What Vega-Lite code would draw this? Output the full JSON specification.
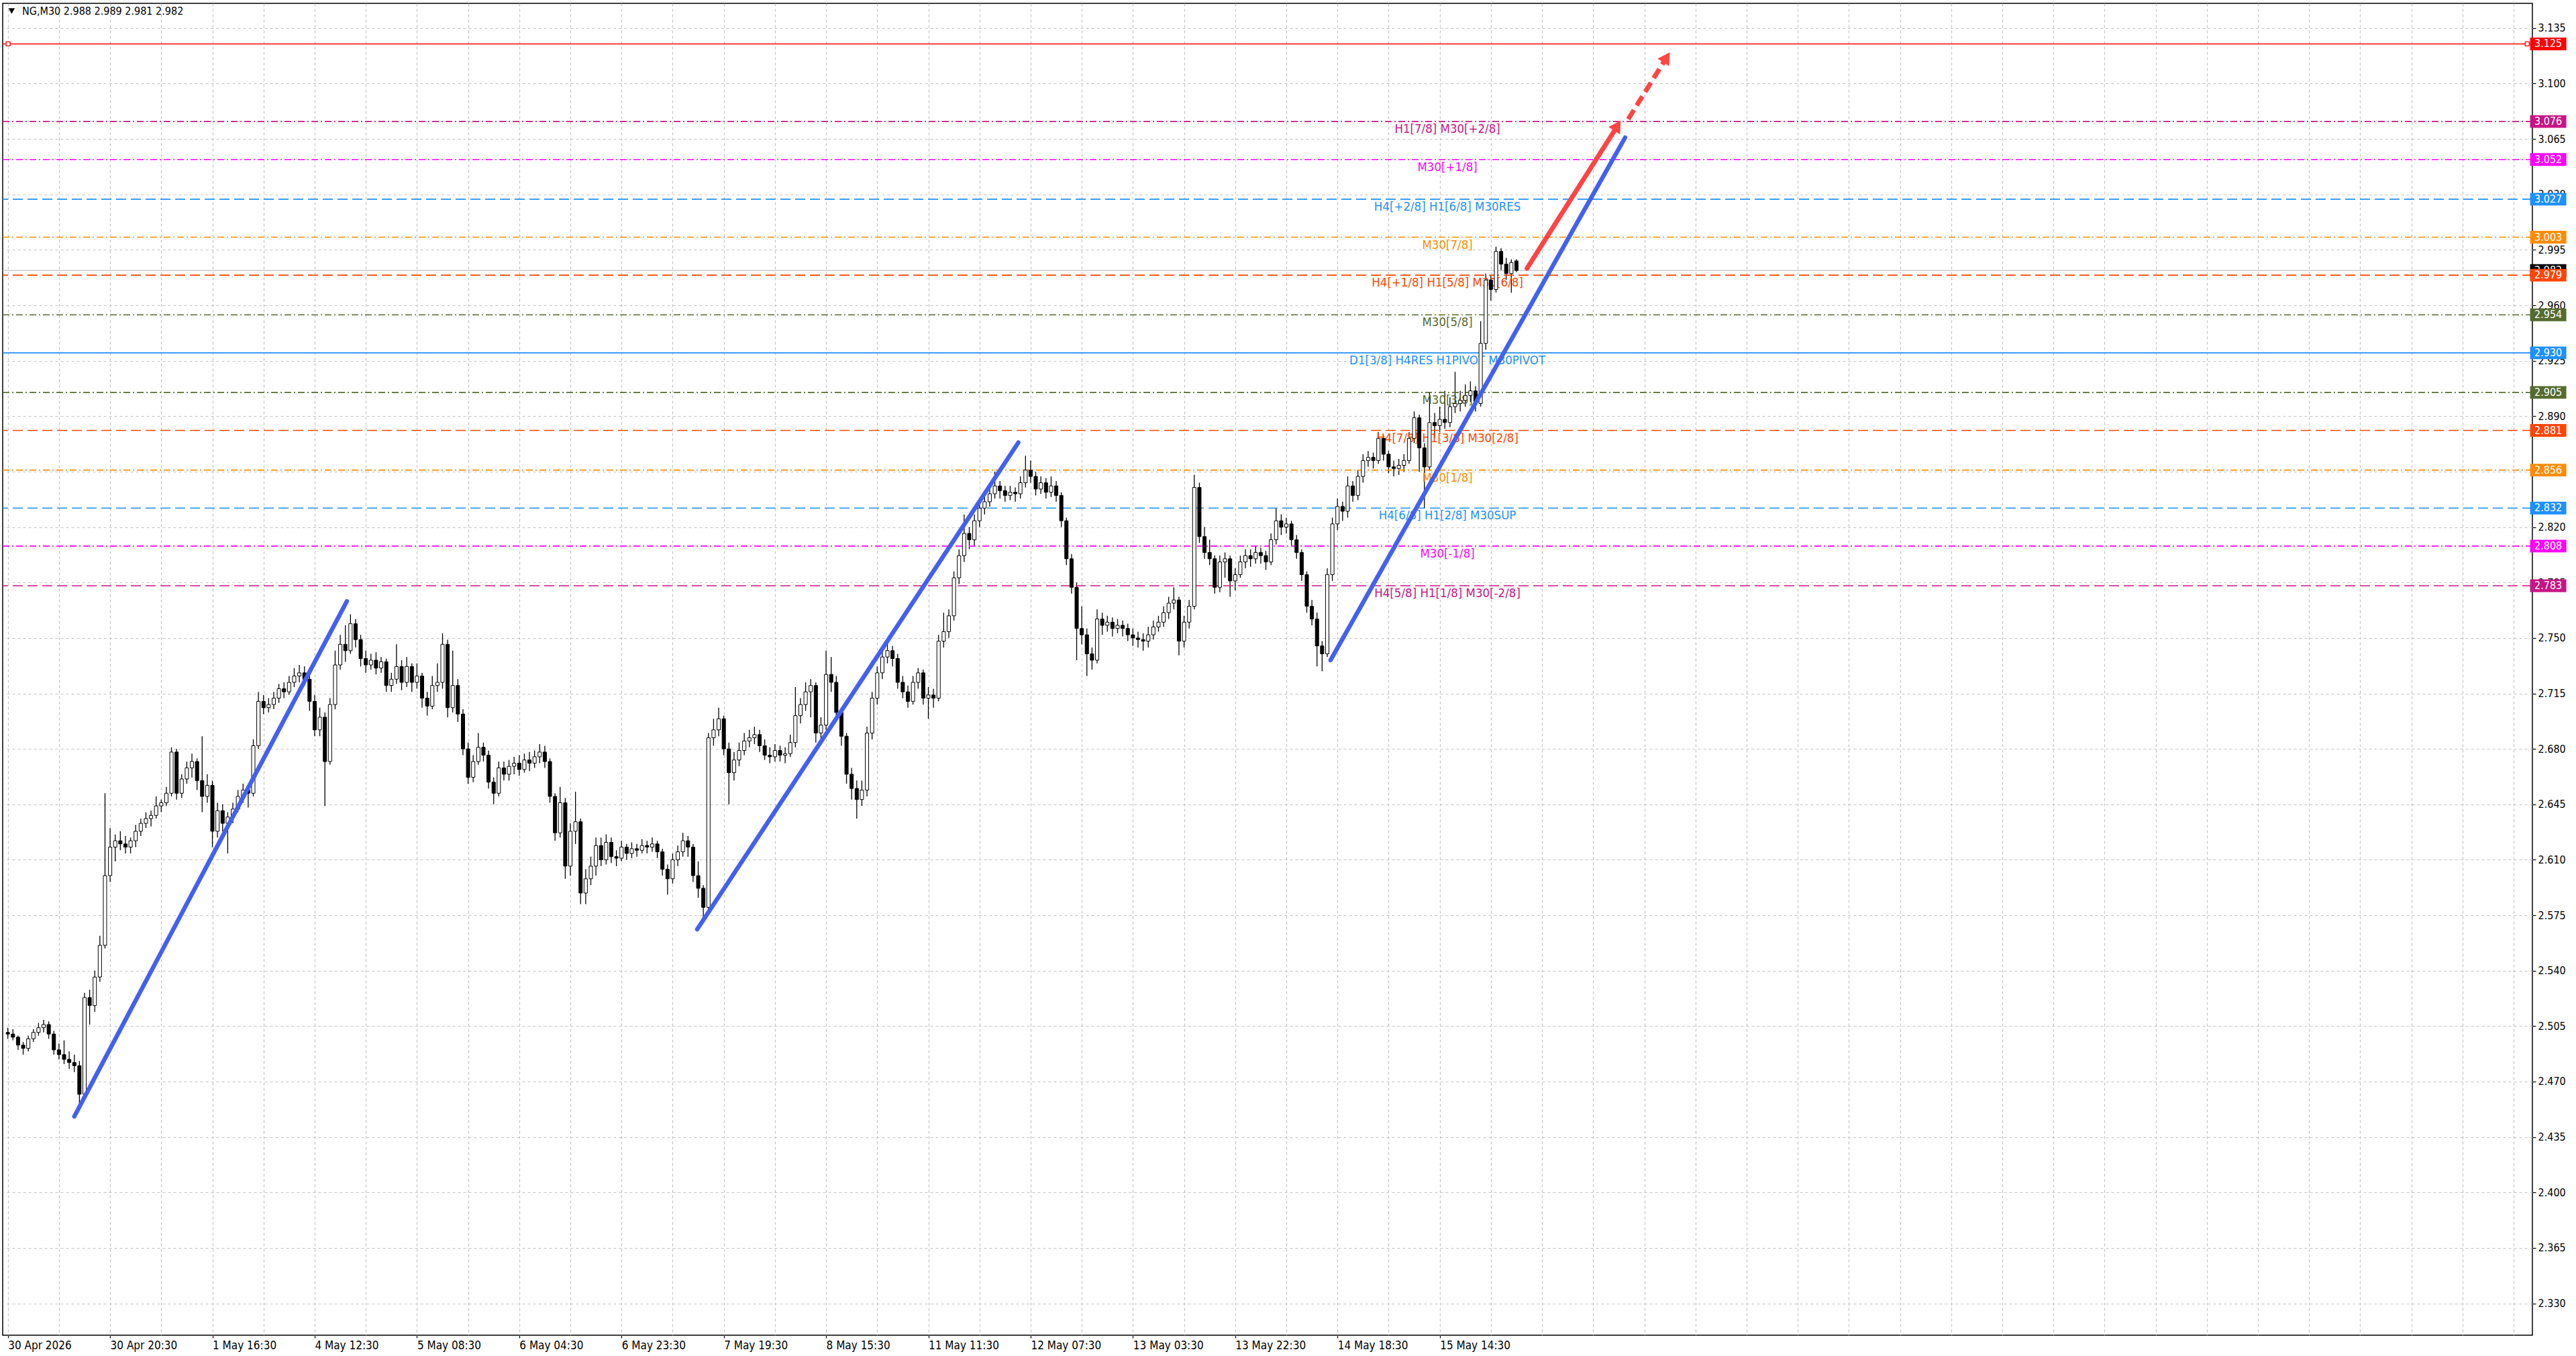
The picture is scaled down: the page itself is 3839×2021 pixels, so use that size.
{
  "$schema": "https://vega.github.io/schema/vega-lite/v6.json",
  "description": "NG M30 candles with Murrey-style levels, trend lines and projection arrow",
  "width": 3770,
  "height": 1985,
  "autosize": "none",
  "padding": {"left": 4, "top": 5, "right": 65, "bottom": 31},
  "background": "#ffffff",
  "config": {
    "view": {"stroke": "#000000", "strokeWidth": 1.5},
    "font": "DejaVu Sans Condensed",
    "text": {"font": "DejaVu Sans Condensed"}
  },
  "datasets": {
    "bars": [
      {"t":0,"o":2.501,"h":2.504,"l":2.497,"c":2.5},
      {"t":2,"o":2.5,"h":2.503,"l":2.496,"c":2.498},
      {"t":4,"o":2.498,"h":2.499,"l":2.49,"c":2.493},
      {"t":6,"o":2.493,"h":2.495,"l":2.487,"c":2.491},
      {"t":8,"o":2.491,"h":2.499,"l":2.489,"c":2.497},
      {"t":10,"o":2.497,"h":2.503,"l":2.495,"c":2.501},
      {"t":12,"o":2.501,"h":2.507,"l":2.499,"c":2.504},
      {"t":14,"o":2.504,"h":2.509,"l":2.501,"c":2.506},
      {"t":16,"o":2.506,"h":2.508,"l":2.497,"c":2.5},
      {"t":18,"o":2.5,"h":2.502,"l":2.487,"c":2.49},
      {"t":20,"o":2.49,"h":2.494,"l":2.484,"c":2.487},
      {"t":22,"o":2.487,"h":2.496,"l":2.481,"c":2.484},
      {"t":24,"o":2.484,"h":2.489,"l":2.478,"c":2.482},
      {"t":26,"o":2.482,"h":2.487,"l":2.476,"c":2.48},
      {"t":28,"o":2.48,"h":2.483,"l":2.456,"c":2.462},
      {"t":30,"o":2.462,"h":2.526,"l":2.46,"c":2.523},
      {"t":32,"o":2.523,"h":2.528,"l":2.506,"c":2.518},
      {"t":34,"o":2.518,"h":2.54,"l":2.514,"c":2.536},
      {"t":36,"o":2.536,"h":2.562,"l":2.533,"c":2.556},
      {"t":38,"o":2.556,"h":2.652,"l":2.554,"c":2.6},
      {"t":40,"o":2.6,"h":2.63,"l":2.596,"c":2.618},
      {"t":42,"o":2.618,"h":2.626,"l":2.609,"c":2.622},
      {"t":44,"o":2.622,"h":2.628,"l":2.616,"c":2.62},
      {"t":46,"o":2.62,"h":2.625,"l":2.614,"c":2.618},
      {"t":48,"o":2.618,"h":2.624,"l":2.614,"c":2.622},
      {"t":50,"o":2.622,"h":2.632,"l":2.618,"c":2.628},
      {"t":52,"o":2.628,"h":2.636,"l":2.625,"c":2.633},
      {"t":54,"o":2.633,"h":2.64,"l":2.63,"c":2.636},
      {"t":56,"o":2.636,"h":2.641,"l":2.631,"c":2.638},
      {"t":58,"o":2.638,"h":2.65,"l":2.636,"c":2.644},
      {"t":60,"o":2.644,"h":2.648,"l":2.64,"c":2.646},
      {"t":62,"o":2.646,"h":2.656,"l":2.644,"c":2.652},
      {"t":64,"o":2.652,"h":2.681,"l":2.65,"c":2.678},
      {"t":66,"o":2.678,"h":2.68,"l":2.648,"c":2.652},
      {"t":68,"o":2.652,"h":2.664,"l":2.649,"c":2.661},
      {"t":70,"o":2.661,"h":2.672,"l":2.658,"c":2.668},
      {"t":72,"o":2.668,"h":2.677,"l":2.662,"c":2.672},
      {"t":74,"o":2.672,"h":2.674,"l":2.654,"c":2.66},
      {"t":76,"o":2.66,"h":2.688,"l":2.64,"c":2.65},
      {"t":78,"o":2.65,"h":2.664,"l":2.646,"c":2.657},
      {"t":80,"o":2.657,"h":2.66,"l":2.618,"c":2.628},
      {"t":82,"o":2.628,"h":2.646,"l":2.624,"c":2.641},
      {"t":84,"o":2.641,"h":2.645,"l":2.628,"c":2.633},
      {"t":86,"o":2.633,"h":2.64,"l":2.614,"c":2.637},
      {"t":88,"o":2.637,"h":2.646,"l":2.633,"c":2.642},
      {"t":90,"o":2.642,"h":2.654,"l":2.64,"c":2.65},
      {"t":92,"o":2.65,"h":2.658,"l":2.646,"c":2.654},
      {"t":94,"o":2.654,"h":2.657,"l":2.643,"c":2.652},
      {"t":96,"o":2.652,"h":2.686,"l":2.65,"c":2.682},
      {"t":98,"o":2.682,"h":2.716,"l":2.68,"c":2.71},
      {"t":100,"o":2.71,"h":2.714,"l":2.702,"c":2.706},
      {"t":102,"o":2.706,"h":2.712,"l":2.703,"c":2.708},
      {"t":104,"o":2.708,"h":2.716,"l":2.705,"c":2.712},
      {"t":106,"o":2.712,"h":2.721,"l":2.709,"c":2.718},
      {"t":108,"o":2.718,"h":2.722,"l":2.712,"c":2.716},
      {"t":110,"o":2.716,"h":2.726,"l":2.714,"c":2.722},
      {"t":112,"o":2.722,"h":2.731,"l":2.719,"c":2.726},
      {"t":114,"o":2.726,"h":2.733,"l":2.722,"c":2.728},
      {"t":116,"o":2.728,"h":2.732,"l":2.72,"c":2.724},
      {"t":118,"o":2.724,"h":2.727,"l":2.704,"c":2.71},
      {"t":120,"o":2.71,"h":2.714,"l":2.688,"c":2.692},
      {"t":122,"o":2.692,"h":2.706,"l":2.688,"c":2.7},
      {"t":124,"o":2.7,"h":2.703,"l":2.644,"c":2.672},
      {"t":126,"o":2.672,"h":2.712,"l":2.67,"c":2.708},
      {"t":128,"o":2.708,"h":2.742,"l":2.705,"c":2.733},
      {"t":130,"o":2.733,"h":2.752,"l":2.73,"c":2.746},
      {"t":132,"o":2.746,"h":2.758,"l":2.735,"c":2.742},
      {"t":134,"o":2.742,"h":2.765,"l":2.74,"c":2.759},
      {"t":136,"o":2.759,"h":2.762,"l":2.744,"c":2.749},
      {"t":138,"o":2.749,"h":2.752,"l":2.732,"c":2.737},
      {"t":140,"o":2.737,"h":2.742,"l":2.728,"c":2.733},
      {"t":142,"o":2.733,"h":2.74,"l":2.73,"c":2.736},
      {"t":144,"o":2.736,"h":2.741,"l":2.727,"c":2.731},
      {"t":146,"o":2.731,"h":2.738,"l":2.728,"c":2.735},
      {"t":148,"o":2.735,"h":2.737,"l":2.716,"c":2.72},
      {"t":150,"o":2.72,"h":2.728,"l":2.716,"c":2.724},
      {"t":152,"o":2.724,"h":2.746,"l":2.721,"c":2.732},
      {"t":154,"o":2.732,"h":2.736,"l":2.717,"c":2.722},
      {"t":156,"o":2.722,"h":2.738,"l":2.719,"c":2.732},
      {"t":158,"o":2.732,"h":2.734,"l":2.716,"c":2.722},
      {"t":160,"o":2.722,"h":2.734,"l":2.718,"c":2.726},
      {"t":162,"o":2.726,"h":2.728,"l":2.706,"c":2.712},
      {"t":164,"o":2.712,"h":2.716,"l":2.701,"c":2.707},
      {"t":166,"o":2.707,"h":2.726,"l":2.705,"c":2.72},
      {"t":168,"o":2.72,"h":2.734,"l":2.716,"c":2.722},
      {"t":170,"o":2.722,"h":2.753,"l":2.718,"c":2.746},
      {"t":172,"o":2.746,"h":2.749,"l":2.7,"c":2.706},
      {"t":174,"o":2.706,"h":2.742,"l":2.703,"c":2.72},
      {"t":176,"o":2.72,"h":2.724,"l":2.697,"c":2.702},
      {"t":178,"o":2.702,"h":2.705,"l":2.676,"c":2.68},
      {"t":180,"o":2.68,"h":2.684,"l":2.658,"c":2.662},
      {"t":182,"o":2.662,"h":2.676,"l":2.659,"c":2.672},
      {"t":184,"o":2.672,"h":2.69,"l":2.67,"c":2.681},
      {"t":186,"o":2.681,"h":2.684,"l":2.672,"c":2.676},
      {"t":188,"o":2.676,"h":2.679,"l":2.655,"c":2.659},
      {"t":190,"o":2.659,"h":2.662,"l":2.645,"c":2.652},
      {"t":192,"o":2.652,"h":2.672,"l":2.65,"c":2.668},
      {"t":194,"o":2.668,"h":2.672,"l":2.66,"c":2.664},
      {"t":196,"o":2.664,"h":2.673,"l":2.66,"c":2.669},
      {"t":198,"o":2.669,"h":2.675,"l":2.664,"c":2.671},
      {"t":200,"o":2.671,"h":2.676,"l":2.663,"c":2.667},
      {"t":202,"o":2.667,"h":2.677,"l":2.665,"c":2.673},
      {"t":204,"o":2.673,"h":2.678,"l":2.666,"c":2.671},
      {"t":206,"o":2.671,"h":2.679,"l":2.668,"c":2.675},
      {"t":208,"o":2.675,"h":2.683,"l":2.671,"c":2.678},
      {"t":210,"o":2.678,"h":2.682,"l":2.668,"c":2.672},
      {"t":212,"o":2.672,"h":2.674,"l":2.646,"c":2.65},
      {"t":214,"o":2.65,"h":2.652,"l":2.622,"c":2.627},
      {"t":216,"o":2.627,"h":2.656,"l":2.624,"c":2.646},
      {"t":218,"o":2.646,"h":2.649,"l":2.598,"c":2.606},
      {"t":220,"o":2.606,"h":2.633,"l":2.6,"c":2.628},
      {"t":222,"o":2.628,"h":2.653,"l":2.62,"c":2.634},
      {"t":224,"o":2.634,"h":2.636,"l":2.582,"c":2.589},
      {"t":226,"o":2.589,"h":2.604,"l":2.582,"c":2.598},
      {"t":228,"o":2.598,"h":2.612,"l":2.594,"c":2.606},
      {"t":230,"o":2.606,"h":2.624,"l":2.6,"c":2.619},
      {"t":232,"o":2.619,"h":2.624,"l":2.606,"c":2.61},
      {"t":234,"o":2.61,"h":2.626,"l":2.607,"c":2.621},
      {"t":236,"o":2.621,"h":2.624,"l":2.608,"c":2.612},
      {"t":238,"o":2.612,"h":2.616,"l":2.606,"c":2.611},
      {"t":240,"o":2.611,"h":2.622,"l":2.609,"c":2.618},
      {"t":242,"o":2.618,"h":2.62,"l":2.61,"c":2.614},
      {"t":244,"o":2.614,"h":2.621,"l":2.611,"c":2.617},
      {"t":246,"o":2.617,"h":2.62,"l":2.612,"c":2.616},
      {"t":248,"o":2.616,"h":2.623,"l":2.614,"c":2.619},
      {"t":250,"o":2.619,"h":2.622,"l":2.614,"c":2.618},
      {"t":252,"o":2.618,"h":2.624,"l":2.615,"c":2.62},
      {"t":254,"o":2.62,"h":2.622,"l":2.611,"c":2.615},
      {"t":256,"o":2.615,"h":2.617,"l":2.6,"c":2.604},
      {"t":258,"o":2.604,"h":2.607,"l":2.588,"c":2.598},
      {"t":260,"o":2.598,"h":2.614,"l":2.595,"c":2.61},
      {"t":262,"o":2.61,"h":2.619,"l":2.606,"c":2.615},
      {"t":264,"o":2.615,"h":2.627,"l":2.612,"c":2.622},
      {"t":266,"o":2.622,"h":2.625,"l":2.612,"c":2.618},
      {"t":268,"o":2.618,"h":2.62,"l":2.596,"c":2.6},
      {"t":270,"o":2.6,"h":2.609,"l":2.586,"c":2.592},
      {"t":272,"o":2.592,"h":2.594,"l":2.572,"c":2.58},
      {"t":274,"o":2.58,"h":2.69,"l":2.578,"c":2.687},
      {"t":276,"o":2.687,"h":2.699,"l":2.682,"c":2.692},
      {"t":278,"o":2.692,"h":2.706,"l":2.688,"c":2.699},
      {"t":280,"o":2.699,"h":2.701,"l":2.676,"c":2.68},
      {"t":282,"o":2.68,"h":2.684,"l":2.645,"c":2.665},
      {"t":284,"o":2.665,"h":2.678,"l":2.66,"c":2.673},
      {"t":286,"o":2.673,"h":2.684,"l":2.669,"c":2.679},
      {"t":288,"o":2.679,"h":2.69,"l":2.676,"c":2.685},
      {"t":290,"o":2.685,"h":2.692,"l":2.681,"c":2.687},
      {"t":292,"o":2.687,"h":2.694,"l":2.683,"c":2.689},
      {"t":294,"o":2.689,"h":2.692,"l":2.678,"c":2.682},
      {"t":296,"o":2.682,"h":2.686,"l":2.673,"c":2.676},
      {"t":298,"o":2.676,"h":2.681,"l":2.671,"c":2.675},
      {"t":300,"o":2.675,"h":2.683,"l":2.672,"c":2.679},
      {"t":302,"o":2.679,"h":2.682,"l":2.672,"c":2.676},
      {"t":304,"o":2.676,"h":2.681,"l":2.671,"c":2.677},
      {"t":306,"o":2.677,"h":2.689,"l":2.675,"c":2.684},
      {"t":308,"o":2.684,"h":2.719,"l":2.681,"c":2.701},
      {"t":310,"o":2.701,"h":2.712,"l":2.696,"c":2.708},
      {"t":312,"o":2.708,"h":2.722,"l":2.704,"c":2.716},
      {"t":314,"o":2.716,"h":2.724,"l":2.7,"c":2.72},
      {"t":316,"o":2.72,"h":2.722,"l":2.684,"c":2.69},
      {"t":318,"o":2.69,"h":2.7,"l":2.686,"c":2.695},
      {"t":320,"o":2.695,"h":2.742,"l":2.692,"c":2.727},
      {"t":322,"o":2.727,"h":2.738,"l":2.716,"c":2.722},
      {"t":324,"o":2.722,"h":2.726,"l":2.698,"c":2.703},
      {"t":326,"o":2.703,"h":2.706,"l":2.682,"c":2.688},
      {"t":328,"o":2.688,"h":2.69,"l":2.658,"c":2.664},
      {"t":330,"o":2.664,"h":2.668,"l":2.648,"c":2.655},
      {"t":332,"o":2.655,"h":2.66,"l":2.636,"c":2.648},
      {"t":334,"o":2.648,"h":2.66,"l":2.644,"c":2.654},
      {"t":336,"o":2.654,"h":2.694,"l":2.65,"c":2.69},
      {"t":338,"o":2.69,"h":2.716,"l":2.686,"c":2.712},
      {"t":340,"o":2.712,"h":2.732,"l":2.708,"c":2.728},
      {"t":342,"o":2.728,"h":2.744,"l":2.724,"c":2.738},
      {"t":344,"o":2.738,"h":2.748,"l":2.734,"c":2.742},
      {"t":346,"o":2.742,"h":2.745,"l":2.732,"c":2.737},
      {"t":348,"o":2.737,"h":2.74,"l":2.718,"c":2.722},
      {"t":350,"o":2.722,"h":2.726,"l":2.712,"c":2.716},
      {"t":352,"o":2.716,"h":2.72,"l":2.706,"c":2.71},
      {"t":354,"o":2.71,"h":2.726,"l":2.708,"c":2.722},
      {"t":356,"o":2.722,"h":2.731,"l":2.718,"c":2.728},
      {"t":358,"o":2.728,"h":2.73,"l":2.708,"c":2.712},
      {"t":360,"o":2.712,"h":2.719,"l":2.699,"c":2.714},
      {"t":362,"o":2.714,"h":2.718,"l":2.706,"c":2.712},
      {"t":364,"o":2.712,"h":2.752,"l":2.71,"c":2.748},
      {"t":366,"o":2.748,"h":2.766,"l":2.744,"c":2.754},
      {"t":368,"o":2.754,"h":2.768,"l":2.75,"c":2.764},
      {"t":370,"o":2.764,"h":2.792,"l":2.761,"c":2.788},
      {"t":372,"o":2.788,"h":2.806,"l":2.784,"c":2.802},
      {"t":374,"o":2.802,"h":2.828,"l":2.798,"c":2.816},
      {"t":376,"o":2.816,"h":2.82,"l":2.806,"c":2.812},
      {"t":378,"o":2.812,"h":2.828,"l":2.808,"c":2.824},
      {"t":380,"o":2.824,"h":2.836,"l":2.82,"c":2.832},
      {"t":382,"o":2.832,"h":2.84,"l":2.828,"c":2.836},
      {"t":384,"o":2.836,"h":2.846,"l":2.833,"c":2.841},
      {"t":386,"o":2.841,"h":2.855,"l":2.838,"c":2.846},
      {"t":388,"o":2.846,"h":2.849,"l":2.838,"c":2.843},
      {"t":390,"o":2.843,"h":2.846,"l":2.836,"c":2.84},
      {"t":392,"o":2.84,"h":2.846,"l":2.837,"c":2.842},
      {"t":394,"o":2.842,"h":2.845,"l":2.836,"c":2.841},
      {"t":396,"o":2.841,"h":2.852,"l":2.838,"c":2.848},
      {"t":398,"o":2.848,"h":2.865,"l":2.845,"c":2.856},
      {"t":400,"o":2.856,"h":2.862,"l":2.848,"c":2.852},
      {"t":402,"o":2.852,"h":2.855,"l":2.84,"c":2.844},
      {"t":404,"o":2.844,"h":2.852,"l":2.841,"c":2.848},
      {"t":406,"o":2.848,"h":2.851,"l":2.838,"c":2.842},
      {"t":408,"o":2.842,"h":2.852,"l":2.839,"c":2.846},
      {"t":410,"o":2.846,"h":2.849,"l":2.836,"c":2.84},
      {"t":412,"o":2.84,"h":2.842,"l":2.82,"c":2.824},
      {"t":414,"o":2.824,"h":2.826,"l":2.796,"c":2.8},
      {"t":416,"o":2.8,"h":2.803,"l":2.778,"c":2.782},
      {"t":418,"o":2.782,"h":2.785,"l":2.736,"c":2.756},
      {"t":420,"o":2.756,"h":2.77,"l":2.746,"c":2.752},
      {"t":422,"o":2.752,"h":2.756,"l":2.726,"c":2.74},
      {"t":424,"o":2.74,"h":2.744,"l":2.73,"c":2.736},
      {"t":426,"o":2.736,"h":2.768,"l":2.734,"c":2.762},
      {"t":428,"o":2.762,"h":2.766,"l":2.752,"c":2.758},
      {"t":430,"o":2.758,"h":2.764,"l":2.754,"c":2.76},
      {"t":432,"o":2.76,"h":2.763,"l":2.751,"c":2.756},
      {"t":434,"o":2.756,"h":2.762,"l":2.753,"c":2.758},
      {"t":436,"o":2.758,"h":2.761,"l":2.751,"c":2.756},
      {"t":438,"o":2.756,"h":2.759,"l":2.748,"c":2.752},
      {"t":440,"o":2.752,"h":2.756,"l":2.745,"c":2.75},
      {"t":442,"o":2.75,"h":2.754,"l":2.744,"c":2.749},
      {"t":444,"o":2.749,"h":2.753,"l":2.742,"c":2.748},
      {"t":446,"o":2.748,"h":2.757,"l":2.744,"c":2.752},
      {"t":448,"o":2.752,"h":2.761,"l":2.749,"c":2.757},
      {"t":450,"o":2.757,"h":2.764,"l":2.754,"c":2.76},
      {"t":452,"o":2.76,"h":2.77,"l":2.757,"c":2.766},
      {"t":454,"o":2.766,"h":2.776,"l":2.762,"c":2.772},
      {"t":456,"o":2.772,"h":2.782,"l":2.768,"c":2.774},
      {"t":458,"o":2.774,"h":2.776,"l":2.739,"c":2.748},
      {"t":460,"o":2.748,"h":2.764,"l":2.744,"c":2.76},
      {"t":462,"o":2.76,"h":2.774,"l":2.756,"c":2.77},
      {"t":464,"o":2.77,"h":2.853,"l":2.768,"c":2.845},
      {"t":466,"o":2.845,"h":2.848,"l":2.81,"c":2.814},
      {"t":468,"o":2.814,"h":2.82,"l":2.8,"c":2.804},
      {"t":470,"o":2.804,"h":2.812,"l":2.796,"c":2.8},
      {"t":472,"o":2.8,"h":2.802,"l":2.778,"c":2.782},
      {"t":474,"o":2.782,"h":2.802,"l":2.779,"c":2.798},
      {"t":476,"o":2.798,"h":2.804,"l":2.788,"c":2.8},
      {"t":478,"o":2.8,"h":2.802,"l":2.776,"c":2.786},
      {"t":480,"o":2.786,"h":2.794,"l":2.78,"c":2.79},
      {"t":482,"o":2.79,"h":2.802,"l":2.788,"c":2.798},
      {"t":484,"o":2.798,"h":2.806,"l":2.794,"c":2.802},
      {"t":486,"o":2.802,"h":2.806,"l":2.795,"c":2.8},
      {"t":488,"o":2.8,"h":2.808,"l":2.797,"c":2.804},
      {"t":490,"o":2.804,"h":2.807,"l":2.797,"c":2.802},
      {"t":492,"o":2.802,"h":2.805,"l":2.793,"c":2.798},
      {"t":494,"o":2.798,"h":2.816,"l":2.796,"c":2.812},
      {"t":496,"o":2.812,"h":2.832,"l":2.809,"c":2.824},
      {"t":498,"o":2.824,"h":2.828,"l":2.815,"c":2.82},
      {"t":500,"o":2.82,"h":2.826,"l":2.816,"c":2.822},
      {"t":502,"o":2.822,"h":2.824,"l":2.808,"c":2.812},
      {"t":504,"o":2.812,"h":2.815,"l":2.8,"c":2.804},
      {"t":506,"o":2.804,"h":2.806,"l":2.786,"c":2.79},
      {"t":508,"o":2.79,"h":2.792,"l":2.766,"c":2.77},
      {"t":510,"o":2.77,"h":2.774,"l":2.758,"c":2.762},
      {"t":512,"o":2.762,"h":2.766,"l":2.732,"c":2.745},
      {"t":514,"o":2.745,"h":2.748,"l":2.729,"c":2.74},
      {"t":516,"o":2.74,"h":2.794,"l":2.738,"c":2.79},
      {"t":518,"o":2.79,"h":2.826,"l":2.786,"c":2.822},
      {"t":520,"o":2.822,"h":2.838,"l":2.818,"c":2.833},
      {"t":522,"o":2.833,"h":2.836,"l":2.824,"c":2.83},
      {"t":524,"o":2.83,"h":2.852,"l":2.826,"c":2.846},
      {"t":526,"o":2.846,"h":2.849,"l":2.836,"c":2.84},
      {"t":528,"o":2.84,"h":2.856,"l":2.837,"c":2.852},
      {"t":530,"o":2.852,"h":2.866,"l":2.848,"c":2.862},
      {"t":532,"o":2.862,"h":2.868,"l":2.858,"c":2.864},
      {"t":534,"o":2.864,"h":2.867,"l":2.857,"c":2.862},
      {"t":536,"o":2.862,"h":2.88,"l":2.86,"c":2.876},
      {"t":538,"o":2.876,"h":2.878,"l":2.862,"c":2.866},
      {"t":540,"o":2.866,"h":2.868,"l":2.854,"c":2.858},
      {"t":542,"o":2.858,"h":2.862,"l":2.852,"c":2.857},
      {"t":544,"o":2.857,"h":2.863,"l":2.853,"c":2.859},
      {"t":546,"o":2.859,"h":2.866,"l":2.855,"c":2.862},
      {"t":548,"o":2.862,"h":2.88,"l":2.86,"c":2.876},
      {"t":550,"o":2.876,"h":2.893,"l":2.873,"c":2.889},
      {"t":552,"o":2.889,"h":2.891,"l":2.855,"c":2.87},
      {"t":554,"o":2.87,"h":2.873,"l":2.832,"c":2.858},
      {"t":556,"o":2.858,"h":2.905,"l":2.856,"c":2.886},
      {"t":558,"o":2.886,"h":2.892,"l":2.876,"c":2.884},
      {"t":560,"o":2.884,"h":2.896,"l":2.88,"c":2.888},
      {"t":562,"o":2.888,"h":2.906,"l":2.882,"c":2.886},
      {"t":564,"o":2.886,"h":2.902,"l":2.883,"c":2.896},
      {"t":566,"o":2.896,"h":2.918,"l":2.892,"c":2.898},
      {"t":568,"o":2.898,"h":2.906,"l":2.893,"c":2.9},
      {"t":570,"o":2.9,"h":2.91,"l":2.896,"c":2.903},
      {"t":572,"o":2.903,"h":2.912,"l":2.899,"c":2.906},
      {"t":574,"o":2.906,"h":2.909,"l":2.893,"c":2.898},
      {"t":576,"o":2.898,"h":2.95,"l":2.896,"c":2.936},
      {"t":578,"o":2.936,"h":2.98,"l":2.932,"c":2.976},
      {"t":580,"o":2.976,"h":2.979,"l":2.963,"c":2.97},
      {"t":582,"o":2.97,"h":2.997,"l":2.968,"c":2.994},
      {"t":584,"o":2.994,"h":2.996,"l":2.982,"c":2.986},
      {"t":586,"o":2.986,"h":2.99,"l":2.976,"c":2.98},
      {"t":588,"o":2.98,"h":2.989,"l":2.968,"c":2.987},
      {"t":590,"o":2.988,"h":2.989,"l":2.981,"c":2.982}
    ],
    "levels": [
      {"id": "alert", "p": 3.125},
      {"id": "H1[7/8] M30[+2/8]", "p": 3.076},
      {"id": "M30[+1/8]", "p": 3.052},
      {"id": "H4[+2/8] H1[6/8] M30RES", "p": 3.027},
      {"id": "M30[7/8]", "p": 3.003},
      {"id": "bid", "p": 2.982},
      {"id": "H4[+1/8] H1[5/8] M30[6/8]", "p": 2.979},
      {"id": "M30[5/8]", "p": 2.954},
      {"id": "D1[3/8] H4RES H1PIVOT M30PIVOT", "p": 2.93},
      {"id": "M30[3/8]", "p": 2.905},
      {"id": "H4[7/8] H1[3/8] M30[2/8]", "p": 2.881},
      {"id": "M30[1/8]", "p": 2.856},
      {"id": "H4[6/8] H1[2/8] M30SUP", "p": 2.832},
      {"id": "M30[-1/8]", "p": 2.808},
      {"id": "H4[5/8] H1[1/8] M30[-2/8]", "p": 2.783}
    ],
    "trend": [
      {"seg": "b1", "t": 26.0, "p": 2.448},
      {"seg": "b1", "t": 132.6, "p": 2.7732},
      {"seg": "b2", "t": 269.6, "p": 2.5661},
      {"seg": "b2", "t": 395.2, "p": 2.8734},
      {"seg": "b3", "t": 517.3, "p": 2.736},
      {"seg": "b3", "t": 632.5, "p": 3.0659}
    ],
    "arrowSolid": [
      {"t": 594.1, "p": 2.9833},
      {"t": 628.8, "p": 3.0715}
    ],
    "arrowDash": [
      {"t": 633.7, "p": 3.0775},
      {"t": 648.0, "p": 3.1146}
    ],
    "heads": [
      {"t": 629.5, "p": 3.0734},
      {"t": 648.7, "p": 3.1165}
    ],
    "anchors": [
      {"t": 0.1, "p": 3.125},
      {"t": 985.3, "p": 3.125}
    ],
    "header": [
      {"sym": "NG,M30", "o": 2.988, "h": 2.989, "l": 2.981, "c": 2.982}
    ]
  },
  "layer": [
    {
      "data": {"name": "bars"},
      "mark": {"type": "rule", "color": "#000000", "strokeWidth": 1.3},
      "encoding": {
        "x": {
          "field": "t",
          "type": "quantitative",
          "scale": {"domain": [-0.7, 986], "nice": false, "zero": false},
          "axis": {
            "title": null,
            "values": [0,20,40,60,80,100,120,140,160,180,200,220,240,260,280,300,320,340,360,380,400,420,440,460,480,500,520,540,560,580,600,620,640,660,680,700,720,740,760,780,800,820,840,860,880,900,920,940,960,980],
            "labelExpr": "(datum.value % 40 == 0 && datum.value <= 560) ? ['30 Apr 2026','30 Apr 20:30','1 May 16:30','4 May 12:30','5 May 08:30','6 May 04:30','6 May 23:30','7 May 19:30','8 May 15:30','11 May 11:30','12 May 07:30','13 May 03:30','13 May 22:30','14 May 18:30','15 May 14:30'][datum.value / 40] : ''",
            "grid": true,
            "gridColor": "#c4c4c4",
            "gridDash": [4, 4],
            "gridWidth": 1.2,
            "domain": false,
            "ticks": true,
            "tickColor": "#000000",
            "tickSize": 4,
            "tickWidth": 1.2,
            "tickOpacity": {"condition": {"test": "datum.value % 40 == 0 && datum.value <= 560", "value": 1}, "value": 0},
            "labelAlign": "left",
            "labelBaseline": "top",
            "labelPadding": 3,
            "labelDx": -1,
            "labelFont": "DejaVu Sans Condensed",
            "labelFontSize": 17,
            "labelColor": "#000000",
            "labelOverlap": false,
            "labelFlush": false,
            "labelBound": false
          }
        },
        "y": {
          "field": "l",
          "type": "quantitative",
          "scale": {"domain": [2.3099, 3.1506], "nice": false, "zero": false},
          "axis": {
            "title": null,
            "orient": "right",
            "values": [2.33,2.365,2.4,2.435,2.47,2.505,2.54,2.575,2.61,2.645,2.68,2.715,2.75,2.785,2.82,2.855,2.89,2.925,2.96,2.995,3.03,3.065,3.1,3.135],
            "format": ".3f",
            "grid": true,
            "gridColor": "#c4c4c4",
            "gridDash": [4, 4],
            "gridWidth": 1.2,
            "domain": false,
            "tickColor": "#000000",
            "tickSize": 5,
            "tickWidth": 1.2,
            "labelPadding": 3,
            "labelFont": "DejaVu Sans Condensed",
            "labelFontSize": 16,
            "labelColor": "#000000",
            "labelOverlap": false,
            "labelBound": false
          }
        },
        "y2": {"field": "h"}
      }
    },
    {
      "data": {"name": "levels"},
      "transform": [{"filter": "datum.id != 'bid'"}],
      "mark": {"type": "rule", "strokeWidth": 1.6},
      "encoding": {
        "y": {"field": "p", "type": "quantitative"},
        "color": {
          "field": "id",
          "type": "nominal",
          "legend": null,
          "scale": {
            "domain": ["alert","H1[7/8] M30[+2/8]","M30[+1/8]","H4[+2/8] H1[6/8] M30RES","M30[7/8]","bid","H4[+1/8] H1[5/8] M30[6/8]","M30[5/8]","D1[3/8] H4RES H1PIVOT M30PIVOT","M30[3/8]","H4[7/8] H1[3/8] M30[2/8]","M30[1/8]","H4[6/8] H1[2/8] M30SUP","M30[-1/8]","H4[5/8] H1[1/8] M30[-2/8]"],
            "range": ["#ff0000","#c71585","#ff00ff","#1e90ff","#ff8c00","#000000","#ff4500","#556b2f","#1e90ff","#556b2f","#ff4500","#ff8c00","#1e90ff","#ff00ff","#c71585"]
          }
        },
        "strokeDash": {
          "field": "id",
          "type": "nominal",
          "legend": null,
          "scale": {
            "domain": ["alert","H1[7/8] M30[+2/8]","M30[+1/8]","H4[+2/8] H1[6/8] M30RES","M30[7/8]","bid","H4[+1/8] H1[5/8] M30[6/8]","M30[5/8]","D1[3/8] H4RES H1PIVOT M30PIVOT","M30[3/8]","H4[7/8] H1[3/8] M30[2/8]","M30[1/8]","H4[6/8] H1[2/8] M30SUP","M30[-1/8]","H4[5/8] H1[1/8] M30[-2/8]"],
            "range": [[1,0],[10,4,2,4],[10,4,2,4],[15,7],[10,4,2,4],[1,0],[15,7],[10,4,2,4],[1,0],[10,4,2,4],[15,7],[10,4,2,4],[15,7],[10,4,2,4],[15,7]]
          }
        }
      }
    },
    {
      "data": {"name": "levels"},
      "transform": [{"filter": "datum.id == 'bid'"}],
      "mark": {"type": "rule", "strokeWidth": 1.4, "color": "#c0c0c0"},
      "encoding": {
        "y": {"field": "p", "type": "quantitative"}
      }
    },
    {
      "data": {"name": "anchors"},
      "mark": {"type": "point", "shape": "square", "size": 36, "filled": true, "fill": "#ffffff", "stroke": "#ff0000", "strokeWidth": 1.3, "opacity": 1},
      "encoding": {
        "x": {"field": "t", "type": "quantitative"},
        "y": {"field": "p", "type": "quantitative"}
      }
    },
    {
      "data": {"name": "levels"},
      "transform": [{"filter": "datum.id != 'bid' && datum.id != 'alert'"}],
      "mark": {"type": "text", "align": "center", "baseline": "middle", "dy": 11, "fontSize": 18.5, "font": "DejaVu Sans Condensed"},
      "encoding": {
        "x": {"datum": 563},
        "y": {"field": "p", "type": "quantitative"},
        "text": {"field": "id"},
        "color": {"field": "id", "type": "nominal", "legend": null}
      }
    },
    {
      "data": {"name": "bars"},
      "mark": {"type": "bar", "orient": "vertical", "size": 5, "stroke": "#000000", "strokeWidth": 1},
      "encoding": {
        "x": {"field": "t", "type": "quantitative"},
        "y": {"field": "o", "type": "quantitative"},
        "y2": {"field": "c"},
        "fill": {"condition": {"test": "datum.c >= datum.o", "value": "#ffffff"}, "value": "#000000"}
      }
    },
    {
      "data": {"name": "trend"},
      "mark": {"type": "line", "color": "#4361ee", "strokeWidth": 6.5, "strokeCap": "round"},
      "encoding": {
        "x": {"field": "t", "type": "quantitative"},
        "y": {"field": "p", "type": "quantitative"},
        "detail": {"field": "seg"}
      }
    },
    {
      "data": {"name": "arrowSolid"},
      "mark": {"type": "line", "color": "#ff4444", "strokeWidth": 7, "strokeCap": "round"},
      "encoding": {
        "x": {"field": "t", "type": "quantitative"},
        "y": {"field": "p", "type": "quantitative"}
      }
    },
    {
      "data": {"name": "arrowDash"},
      "mark": {"type": "line", "color": "#ff4444", "strokeWidth": 7, "strokeCap": "butt", "strokeDash": [16, 8]},
      "encoding": {
        "x": {"field": "t", "type": "quantitative"},
        "y": {"field": "p", "type": "quantitative"}
      }
    },
    {
      "data": {"name": "heads"},
      "mark": {"type": "point", "shape": "triangle-up", "size": 420, "angle": 32.5, "filled": true, "color": "#ff4444", "opacity": 1},
      "encoding": {
        "x": {"field": "t", "type": "quantitative"},
        "y": {"field": "p", "type": "quantitative"}
      }
    },
    {
      "data": {"name": "levels"},
      "transform": [{"filter": "datum.id == 'bid'"}],
      "mark": {"type": "point", "shape": "M-1,-0.35H1V0.35H-1Z", "size": 2916, "filled": true, "opacity": 1, "strokeWidth": 0},
      "encoding": {
        "x": {"datum": 993.5},
        "y": {"field": "p", "type": "quantitative"},
        "color": {"field": "id", "type": "nominal", "legend": null}
      }
    },
    {
      "data": {"name": "levels"},
      "transform": [{"filter": "datum.id == 'bid'"}],
      "mark": {"type": "text", "align": "left", "baseline": "middle", "fontSize": 16, "color": "#ffffff", "font": "DejaVu Sans Condensed"},
      "encoding": {
        "x": {"datum": 988.1},
        "y": {"field": "p", "type": "quantitative"},
        "text": {"field": "p", "type": "quantitative", "format": ".3f"}
      }
    },
    {
      "data": {"name": "levels"},
      "transform": [{"filter": "datum.id != 'bid'"}],
      "mark": {"type": "point", "shape": "M-1,-0.35H1V0.35H-1Z", "size": 2916, "filled": true, "opacity": 1, "strokeWidth": 0},
      "encoding": {
        "x": {"datum": 993.5},
        "y": {"field": "p", "type": "quantitative"},
        "color": {"field": "id", "type": "nominal", "legend": null}
      }
    },
    {
      "data": {"name": "levels"},
      "transform": [{"filter": "datum.id != 'bid'"}],
      "mark": {"type": "text", "align": "left", "baseline": "middle", "fontSize": 16, "color": "#ffffff", "font": "DejaVu Sans Condensed"},
      "encoding": {
        "x": {"datum": 988.1},
        "y": {"field": "p", "type": "quantitative"},
        "text": {"field": "p", "type": "quantitative", "format": ".3f"}
      }
    },
    {
      "data": {"name": "header"},
      "mark": {"type": "point", "shape": "triangle-down", "size": 90, "filled": true, "color": "#000000", "opacity": 1},
      "encoding": {
        "x": {"datum": 1.5},
        "y": {"datum": 3.1458}
      }
    },
    {
      "data": {"name": "header"},
      "mark": {"type": "text", "align": "left", "baseline": "middle", "fontSize": 16, "color": "#000000", "font": "DejaVu Sans Condensed"},
      "encoding": {
        "x": {"datum": 5.6},
        "y": {"datum": 3.1455},
        "text": {"value": "NG,M30  2.988 2.989 2.981 2.982"}
      }
    }
  ]
}
